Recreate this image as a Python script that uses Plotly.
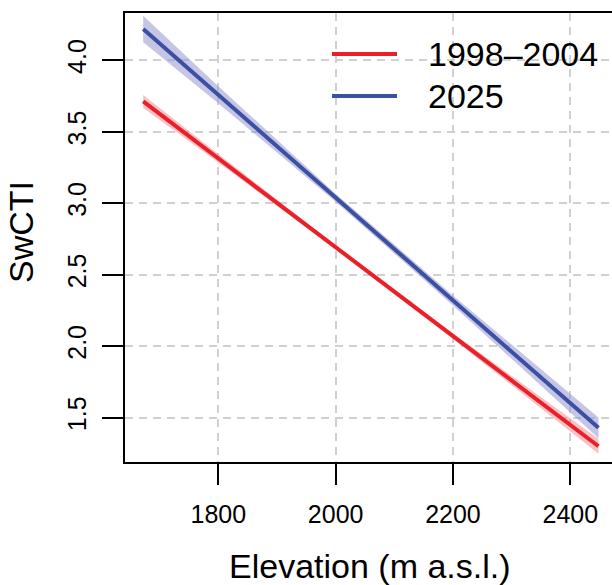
import plotly.graph_objects as go

# ---- data ----
elevation = [1672, 1800, 2000, 2200, 2448]

fit_1998 = [3.712, 3.314, 2.692, 2.070, 1.299]
hw_1998 = [0.046, 0.030, 0.014, 0.020, 0.052]

fit_2025 = [4.219, 3.759, 3.039, 2.320, 1.428]
hw_2025 = [0.093, 0.060, 0.028, 0.035, 0.072]

series_names = ["1998\u20132004", "2025"]
x_ticks = [1800, 2000, 2200, 2400]
y_ticks = [1.5, 2.0, 2.5, 3.0, 3.5, 4.0]

RED = "#EA1F28"
BLUE = "#3A50A2"
RED_BAND = "rgba(240,120,125,0.45)"
BLUE_BAND = "rgba(150,150,210,0.55)"
FONT = "Liberation Sans, Arial, sans-serif"

fig = go.Figure()

def add_series(fit, hw, line_col, band_col):
    upper = [f + h for f, h in zip(fit, hw)]
    lower = [f - h for f, h in zip(fit, hw)]
    fig.add_trace(go.Scatter(
        x=elevation + elevation[::-1], y=upper + lower[::-1],
        fill="toself", fillcolor=band_col, line=dict(width=0),
        mode="lines", hoverinfo="skip", showlegend=False))
    fig.add_trace(go.Scatter(
        x=elevation, y=fit, mode="lines",
        line=dict(color=line_col, width=4), showlegend=False))

add_series(fit_1998, hw_1998, RED, RED_BAND)
add_series(fit_2025, hw_2025, BLUE, BLUE_BAND)

W, H = 612, 585
L, R, T, B = 125, 0, 13, 123
plot_w = W - L - R
plot_h = H - T - B

def px_x(px):
    return (px - L) / plot_w

def px_y(py):
    return (H - B - py) / plot_h

# manual legend (R style)
legend_y = [54, 96]
for name, col, ly in zip(series_names, [RED, BLUE], legend_y):
    fig.add_shape(type="line", xref="paper", yref="paper",
                  x0=px_x(332), x1=px_x(397), y0=px_y(ly), y1=px_y(ly),
                  line=dict(color=col, width=4))
    fig.add_annotation(xref="paper", yref="paper", x=px_x(426), y=px_y(ly),
                       text=name, showarrow=False, xanchor="left", yanchor="middle",
                       font=dict(size=34, color="black", family=FONT))

# axis titles
fig.add_annotation(xref="paper", yref="paper", x=px_x(370), y=px_y(566),
                   text="Elevation (m a.s.l.)", showarrow=False,
                   xanchor="center", yanchor="middle",
                   font=dict(size=34, color="black", family=FONT))
fig.add_annotation(xref="paper", yref="paper", x=px_x(21), y=px_y(232),
                   text="SwCTI", showarrow=False, textangle=-90,
                   xanchor="center", yanchor="middle",
                   font=dict(size=34, color="black", family=FONT))

grid = dict(showgrid=True, gridcolor="#D0D0D0", gridwidth=2, griddash="8px,6px")

fig.update_xaxes(range=[1641.0, 1641.0 + plot_w / 0.5867], tickvals=x_ticks,
                 ticktext=[str(v) for v in x_ticks],
                 ticks="outside", ticklen=21, tickwidth=2, tickcolor="black",
                 showline=True, linecolor="black", linewidth=2, mirror=True,
                 zeroline=False, tickfont=dict(size=25, color="black", family=FONT),
                 ticklabelstandoff=8, automargin=False, **grid)
fig.update_yaxes(range=[1.189, 4.331], tickvals=y_ticks,
                 ticktext=[f"{v:.1f}" for v in y_ticks],
                 ticks="outside", ticklen=21, tickwidth=2, tickcolor="black",
                 showline=True, linecolor="black", linewidth=2, mirror=False,
                 zeroline=False, tickangle=-90,
                 tickfont=dict(size=25, color="black", family=FONT),
                 ticklabelstandoff=6, automargin=False, **grid)

fig.update_layout(width=W, height=H, margin=dict(l=L, r=R, t=T, b=B, pad=0),
                  plot_bgcolor="white", paper_bgcolor="white", showlegend=False,
                  font=dict(family=FONT, color="black"))

fig.write_html("out.html", config={"displayModeBar": False},
               post_script="document.body.style.margin='0';document.body.style.overflow='hidden';")
